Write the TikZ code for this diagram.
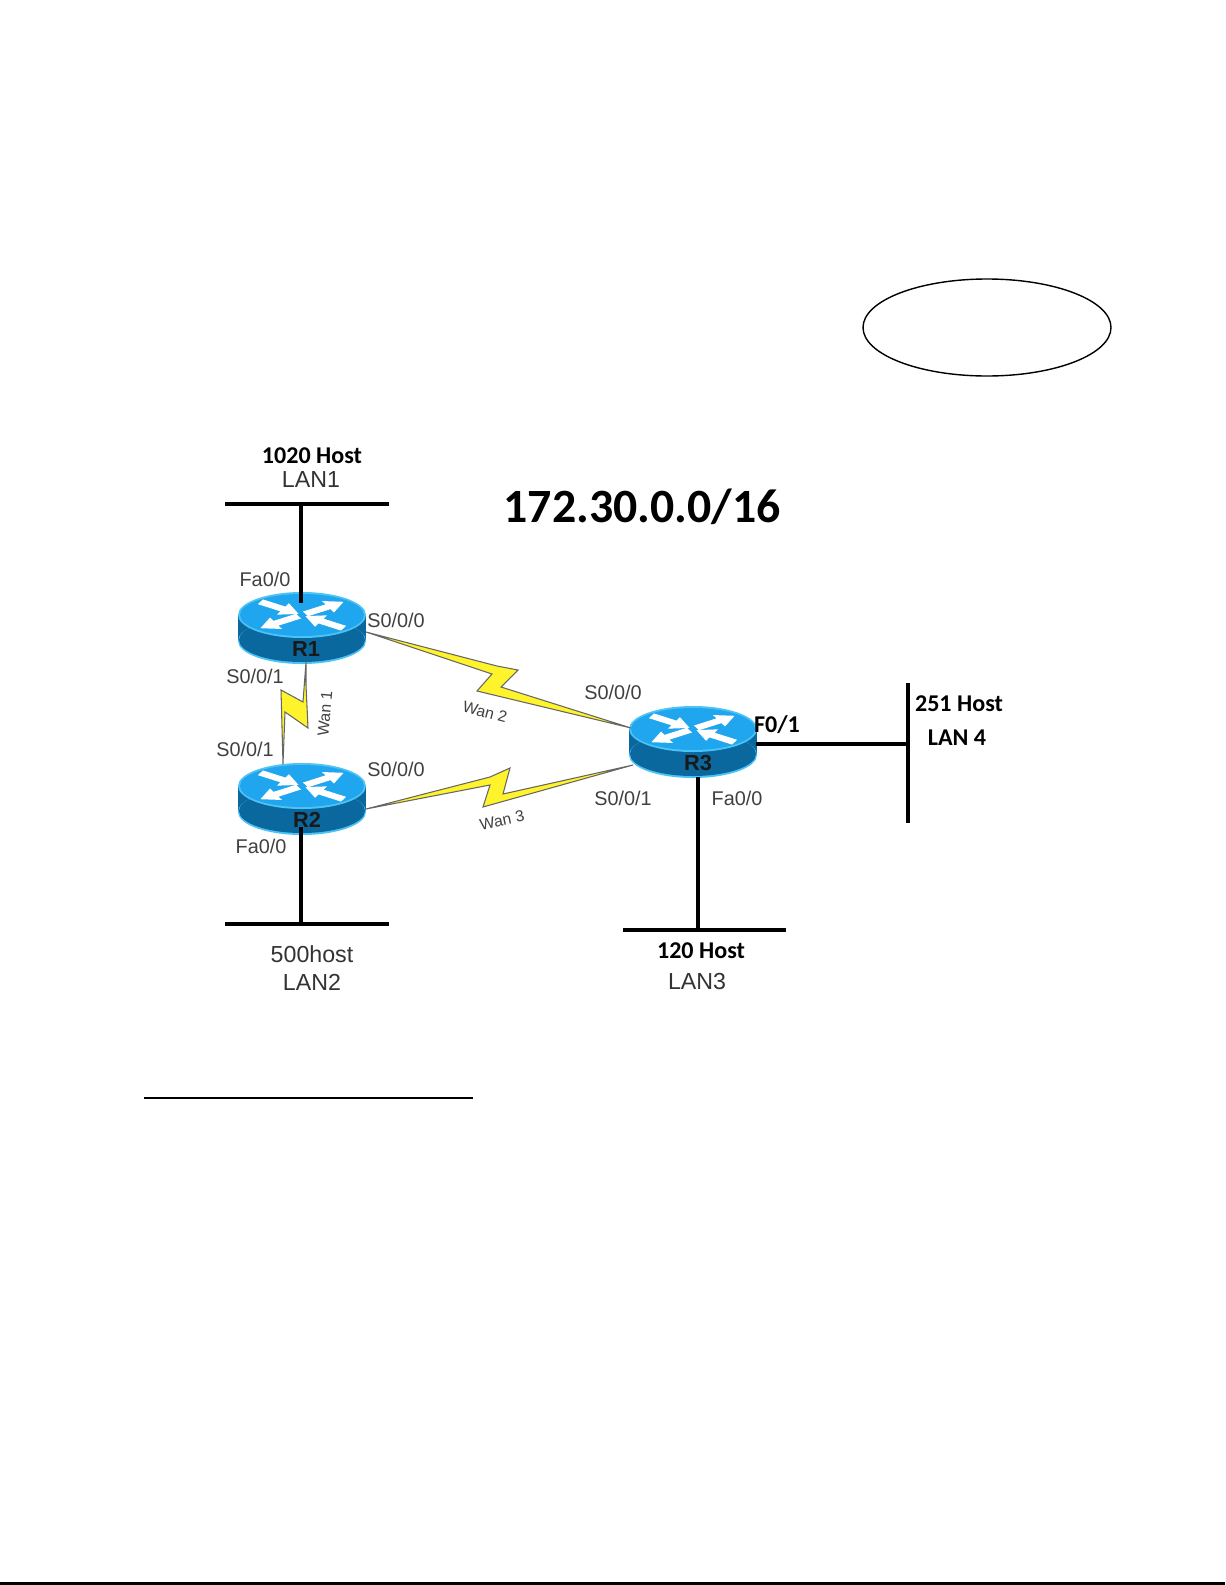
\documentclass[tikz,border=0pt]{standalone}
\usepackage{fontspec}
\setmainfont{Liberation Sans}
\newfontfamily\hostfont{Carlito}
\definecolor{routertop}{HTML}{1FA6EE}
\definecolor{routerrim}{HTML}{4CC3F5}
\definecolor{routerside}{HTML}{0B689F}
\definecolor{boltfill}{HTML}{FFF32B}
\tikzset{
  portlabel/.style={text=black!75, font=\fontsize{11.3}{13}\selectfont, inner sep=0pt},
  lanlabel/.style={text=black!80, font=\fontsize{13.2}{15}\selectfont, inner sep=0pt},
  wanlabel/.style={text=black!75, font=\fontsize{9}{11}\selectfont, inner sep=0pt},
  hostlabel/.style={font=\hostfont\bfseries\fontsize{13.7}{15}\selectfont, inner sep=0pt},
  routerlabel/.style={text=black!90, font=\bfseries\fontsize{12.4}{14}\selectfont, inner sep=0pt},
  lanline/.style={line width=2.4pt},
  wanbolt/.style={draw=black!60, fill=boltfill, line width=0.6pt, line join=miter},
  pics/routerbody/.style={code={
    \fill[routerside] (-64,0) rectangle (64,26);
    \fill[routerrim] (0,26) ellipse [x radius=64, y radius=23];
    \fill[routerside] (0,25) ellipse [x radius=63, y radius=22];
    \fill[routerrim] (0,0) ellipse [x radius=64, y radius=23];
    \fill[routertop] (0,0) ellipse [x radius=62, y radius=21];
    \begin{scope}[yscale=0.55]
      \foreach \ang in {30,210} {
        \fill[white, rotate=\ang] (4,-5) -- (30,-5) -- (30,-12) -- (48,0) -- (30,12) -- (30,5) -- (4,5) -- cycle;
      }
      \foreach \ang in {150,330} {
        \fill[white, rotate=\ang] (48,-5) -- (22,-5) -- (22,-12) -- (4,0) -- (22,12) -- (22,5) -- (48,5) -- cycle;
      }
    \end{scope}
  }}
}
\begin{document}
\begin{tikzpicture}[x=0.02cm, y=-0.02cm]
  \useasboundingbox (0,0) rectangle (1225,1585);
  \fill[white] (0,0) rectangle (1225,1585);

  % routers
  \pic at (302,615) {routerbody};
  \pic at (302,786) {routerbody};
  \pic at (693,729) {routerbody};
  \node[routerlabel] (R1) at (306,649) {R1};
  \node[routerlabel] (R2) at (307,820) {R2};
  \node[routerlabel] (R3) at (698,763) {R3};

  % lan bars
  \coordinate (LAN1L) at (225,504); \coordinate (LAN1R) at (389,504);
  \coordinate (LAN2L) at (225,924); \coordinate (LAN2R) at (389,924);
  \coordinate (LAN3L) at (623,930); \coordinate (LAN3R) at (786,930);
  \coordinate (LAN4T) at (908,683); \coordinate (LAN4B) at (908,823);
  \coordinate (LAN1M) at (301,504); \coordinate (R1T) at (301,603);
  \coordinate (LAN2M) at (301,924); \coordinate (R2B) at (301,827);
  \coordinate (LAN3M) at (698,930); \coordinate (R3B) at (698,777);
  \coordinate (LAN4M) at (908,744); \coordinate (R3E) at (756,744);
  \draw[lanline] (LAN1L) -- (LAN1R);
  \draw[lanline] (LAN2L) -- (LAN2R);
  \draw[lanline] (LAN3L) -- (LAN3R);
  \draw[lanline] (LAN4T) -- (LAN4B);
  \draw[lanline] (LAN1M) -- (R1T);
  \draw[lanline] (LAN2M) -- (R2B);
  \draw[lanline] (LAN3M) -- (R3B);
  \draw[lanline] (LAN4M) -- (R3E);

  % wan links
  \coordinate (R1S) at (306,662); \coordinate (R2N) at (283,764);
  \coordinate (R1Y) at (366,632); \coordinate (R3W) at (631,728);
  \coordinate (R2Y) at (366,809); \coordinate (R3S) at (633,765);
  \draw[wanbolt] (R1S) -- (306,685) -- (308,728) -- (285,712) -- (R2N) -- (281,690) -- (303,702) -- cycle;
  \draw[wanbolt] (R1Y) -- (497,666) -- (518,670) -- (501,687) -- (R3W) -- (477,691) -- (492,674) -- cycle;
  \draw[wanbolt] (R2Y) -- (490,777) -- (510,768) -- (503,794) -- (R3S) -- (483,807) -- (490,785) -- cycle;

  % labels
  \node[hostlabel] (hostA) at (312,456) {1020 Host};
  \node[lanlabel] (lanA) at (311,480) {LAN1};
  \node[portlabel] (faA) at (265,579) {Fa0/0};
  \node[portlabel] (soA) at (396,620) {S0/0/0};
  \node[portlabel] (soB) at (255,676) {S0/0/1};
  \node[portlabel] (soC) at (245,749) {S0/0/1};
  \node[portlabel] (soD) at (396,769) {S0/0/0};
  \node[portlabel] (faB) at (261,846) {Fa0/0};
  \node[lanlabel] (hostB) at (312,954) {500host};
  \node[lanlabel] (lanB) at (312,982) {LAN2};
  \node[portlabel] (soE) at (613,692) {S0/0/0};
  \node[portlabel] (soF) at (623,798) {S0/0/1};
  \node[portlabel] (faC) at (737,798) {Fa0/0};
  \node[hostlabel] (foA) at (777,725) {F0/1};
  \node[hostlabel] (hostD) at (959,704) {251 Host};
  \node[hostlabel] (lanD) at (957,738) {LAN 4};
  \node[hostlabel] (hostC) at (701,951) {120 Host};
  \node[lanlabel] (lanC) at (697,982) {LAN3};
  \node[wanlabel, rotate=85] (wanA) at (325,714) {Wan 1};
  \node[wanlabel, rotate=-15] (wanB) at (485,712) {Wan 2};
  \node[wanlabel, rotate=12] (wanC) at (502,820) {Wan 3};
  \node[font=\hostfont\bfseries\fontsize{27.2}{30}\selectfont, inner sep=0pt] (title) at (642,507) {172.30.0.0/16};

  % oval, rule and page edge
  \draw[line width=0.8pt] (987,327.5) ellipse [x radius=124, y radius=48.5];
  \draw[line width=0.8pt] (144,1098) -- (473,1098);
  \draw[line width=1.2pt] (0,1583.5) -- (1225,1583.5);
\end{tikzpicture}
\end{document}
